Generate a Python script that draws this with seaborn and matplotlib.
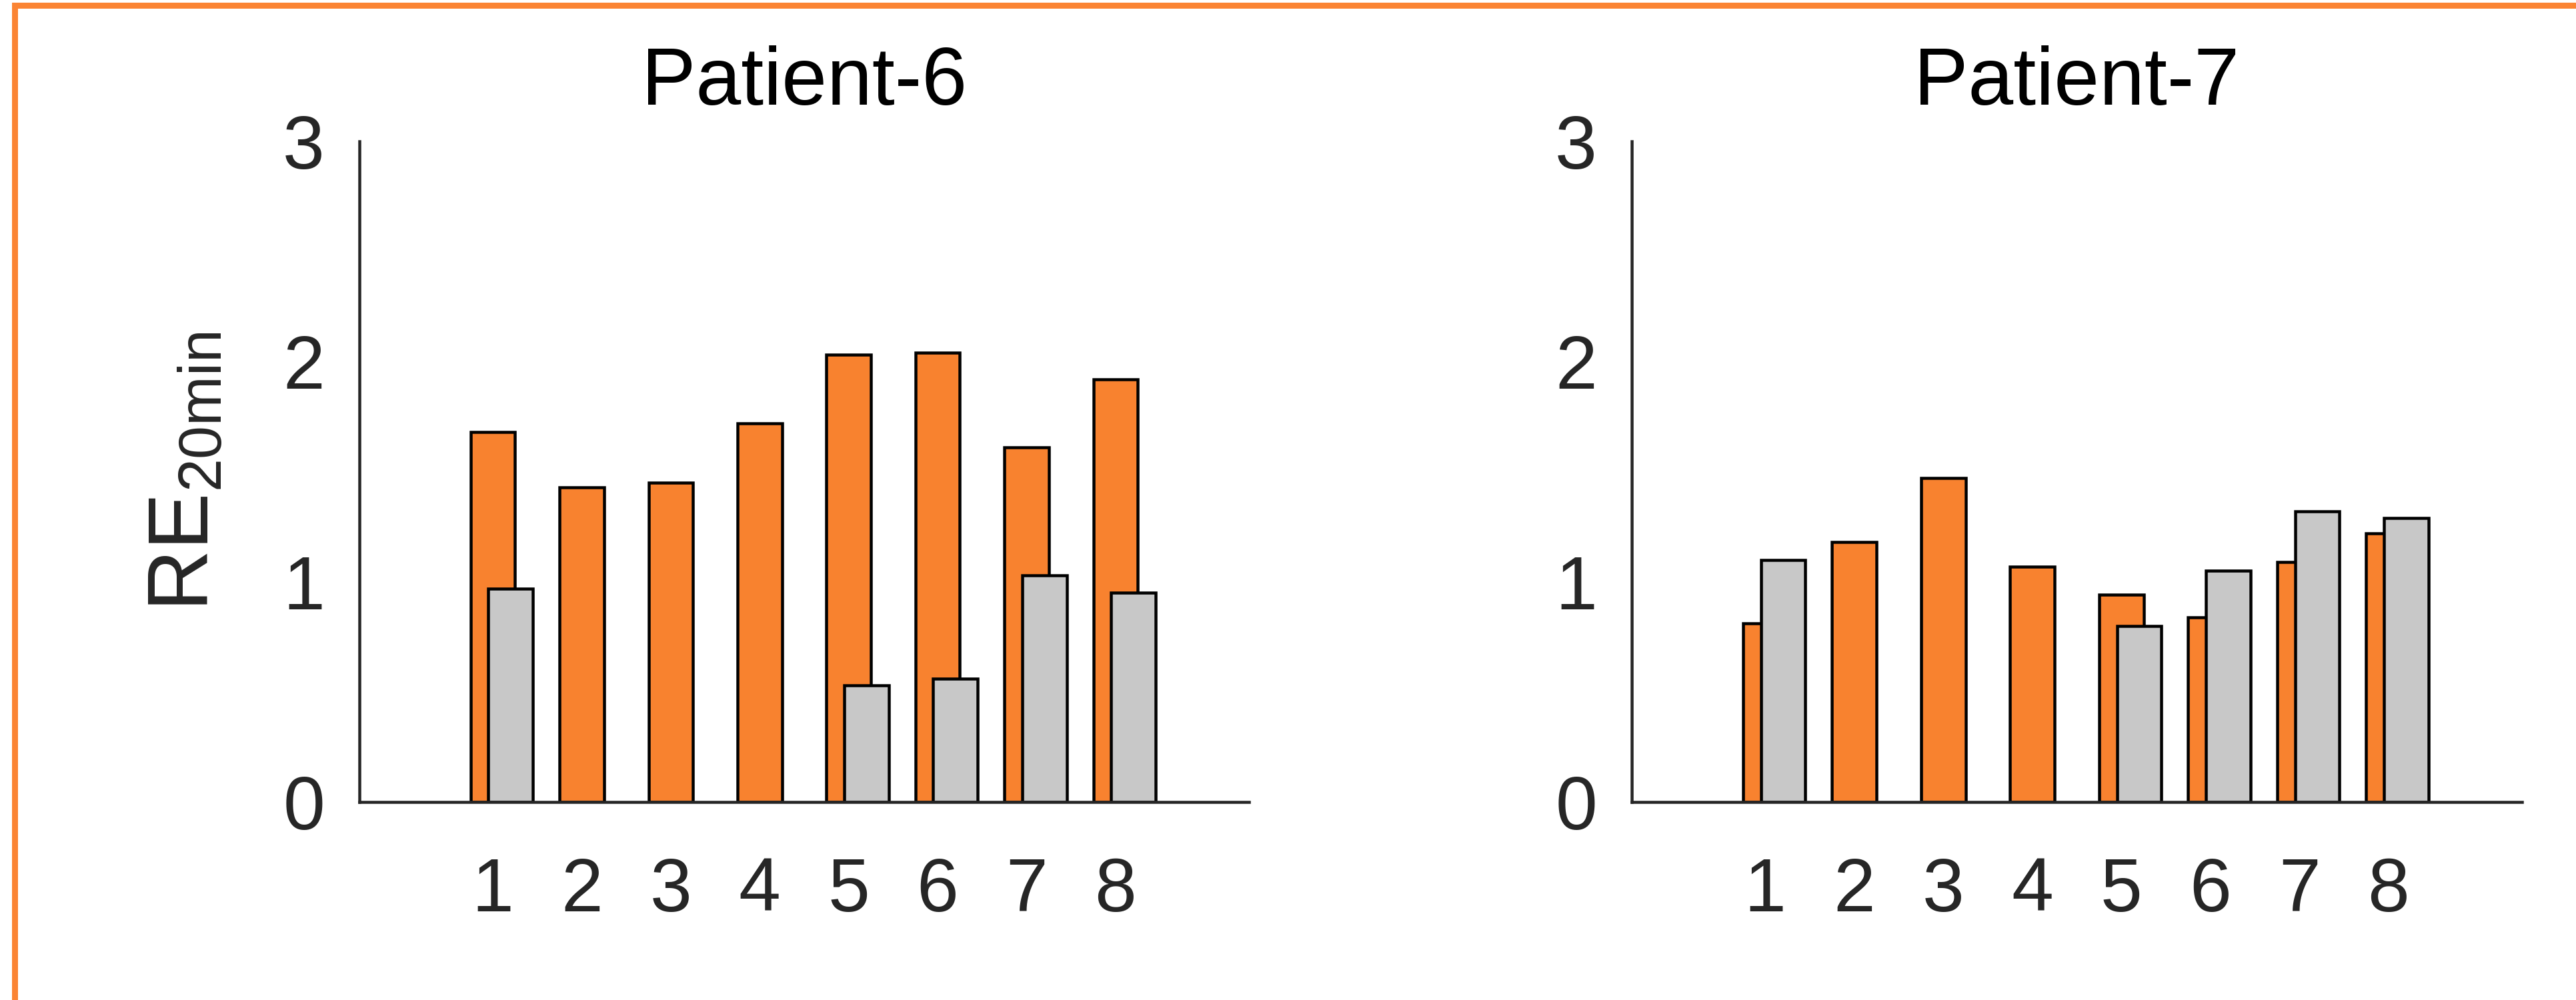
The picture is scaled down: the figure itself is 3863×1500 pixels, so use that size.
import numpy as np
import pandas as pd
import matplotlib
matplotlib.use("Agg")
import matplotlib.pyplot as plt
import seaborn as sns
from matplotlib.patches import Rectangle

# --------------------------------------------
# data
# --------------------------------------------
categories = [1, 2, 3, 4, 5, 6, 7, 8]
panel_titles = ["Patient-6", "Patient-7"]

p6_orange = [1.68, 1.43, 1.45, 1.72, 2.03, 2.04, 1.61, 1.92]
p6_gray = [0.97, np.nan, np.nan, np.nan, 0.53, 0.56, 1.03, 0.95]
p7_orange = [0.81, 1.18, 1.47, 1.07, 0.94, 0.84, 1.09, 1.22]
p7_gray = [1.10, np.nan, np.nan, np.nan, 0.80, 1.05, 1.32, 1.29]

y_ticks = [0, 1, 2, 3]
y_label = r"RE$_{\mathregular{20min}}$"

# --------------------------------------------
# style
# --------------------------------------------
ORANGE = "#F8822F"
GRAY = "#C8C8C8"
AXIS_COLOR = "#262626"
GRAY_SHIFT = 0.2      # gray bar drawn a bit to the right of the orange one
BAR_WIDTH = 0.5

W, H, DPI = 3863, 1500, 72   # at 72 dpi one point is one pixel

sns.set_style("white")
plt.rcParams["font.family"] = ["Liberation Sans", "DejaVu Sans"]
plt.rcParams["mathtext.fontset"] = "custom"
plt.rcParams["mathtext.rm"] = "Liberation Sans"
plt.rcParams["mathtext.it"] = "Liberation Sans"


def draw_panel(ax, orange, gray, title, show_ylabel):
    df_o = pd.DataFrame({"x": categories, "y": orange}).dropna()
    df_g = pd.DataFrame({"x": categories, "y": gray}).dropna()
    df_g["x"] = df_g["x"] + GRAY_SHIFT

    sns.barplot(data=df_o, x="x", y="y", native_scale=True, width=BAR_WIDTH,
                color=ORANGE, saturation=1, edgecolor="black", linewidth=4.5,
                errorbar=None, ax=ax)
    sns.barplot(data=df_g, x="x", y="y", native_scale=True, width=BAR_WIDTH,
                color=GRAY, saturation=1, edgecolor="black", linewidth=4.5,
                errorbar=None, ax=ax)

    ax.set_xlim(-0.5, 9.5)
    ax.set_ylim(0, 3)
    ax.set_xticks(categories)
    ax.set_xticklabels([str(c) for c in categories])
    ax.set_yticks(y_ticks)
    ax.set_yticklabels([str(t) for t in y_ticks])

    sns.despine(ax=ax)
    for side in ["left", "bottom"]:
        ax.spines[side].set_color(AXIS_COLOR)
        ax.spines[side].set_linewidth(4.5)
    ax.tick_params(axis="y", direction="in", length=15, width=4.5,
                   color=AXIS_COLOR, labelcolor=AXIS_COLOR,
                   labelsize=113, pad=52)
    ax.tick_params(axis="x", length=0, labelcolor=AXIS_COLOR,
                   labelsize=113, pad=82)

    ax.set_title(title, fontsize=122, pad=55, color="black")
    ax.set_xlabel("")
    if show_ylabel:
        ax.set_ylabel(y_label, fontsize=128, color=AXIS_COLOR, labelpad=85)
    else:
        ax.set_ylabel("")


fig = plt.figure(figsize=(W / DPI, H / DPI), dpi=DPI)
fig.patch.set_facecolor("white")

ax1 = fig.add_axes([539 / W, 1 - 1203 / H, 1334 / W, 991 / H])
ax2 = fig.add_axes([2447 / W, 1 - 1203 / H, 1335 / W, 991 / H])

draw_panel(ax1, p6_orange, p6_gray, panel_titles[0], True)
draw_panel(ax2, p7_orange, p7_gray, panel_titles[1], False)

# orange frame around the figure (right edge cut off as in the source)
frame = Rectangle((22 / W, -4 / H), 1.0, (H - 8 + 4) / H,
                  transform=fig.transFigure, fill=False,
                  edgecolor="#FB8433", linewidth=9, clip_on=False)
fig.patches.append(frame)

fig.savefig("out.png", dpi=DPI)
